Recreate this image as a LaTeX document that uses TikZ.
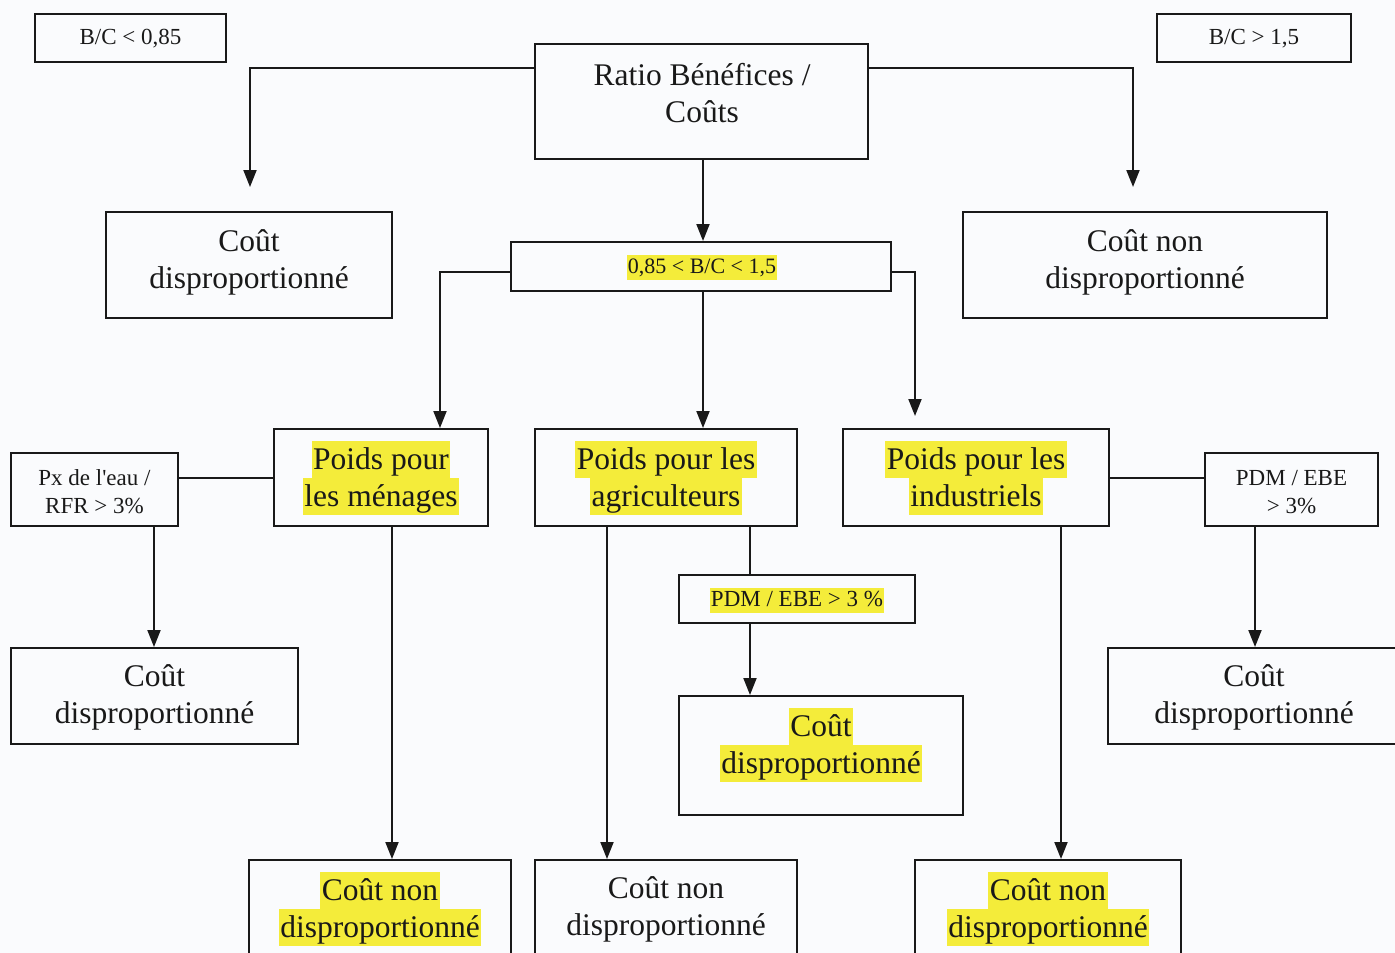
\documentclass[tikz,border=0pt]{standalone}
\usepackage{fontspec}
\setmainfont{Liberation Serif}
\newfontfamily\tnr{Liberation Serif}
\usetikzlibrary{arrows.meta}
\definecolor{hly}{RGB}{244,236,58}
\definecolor{bgc}{RGB}{250,251,253}
\definecolor{ink}{RGB}{25,25,25}
\newcommand{\hlb}[1]{{\setlength{\fboxsep}{0pt}\colorbox{hly}{\rule[-9pt]{0pt}{37pt}\hspace{1.5pt}#1\hspace{1.5pt}}}}
\newcommand{\hls}[1]{{\setlength{\fboxsep}{0pt}\colorbox{hly}{\rule[-6pt]{0pt}{25pt}\hspace{1pt}#1\hspace{1pt}}}}
\tikzset{
  box/.style={draw=ink, line width=2pt, inner sep=0pt},
  bigt/.style={font=\tnr\fontsize{31.5}{37}\selectfont, align=center, inner sep=0pt, text=ink},
  smallt/.style={font=\tnr\fontsize{23}{28}\selectfont, align=center, inner sep=0pt, text=ink},
  midt/.style={font=\tnr\fontsize{22}{26}\selectfont, align=center, inner sep=0pt, text=ink},
  conn/.style={draw=ink, line width=2pt},
  arr/.style={conn, -{Triangle[length=17pt,width=13pt]}}
}
\begin{document}
\begin{tikzpicture}[x=1pt,y=-1pt]
\useasboundingbox (0,0) rectangle (1395,953);
\clip (0,0) rectangle (1395,953);
\fill[bgc] (0,0) rectangle (1395,953);

% boxes
\node[box, minimum width=191pt, minimum height=48pt] (b1) at (130.5,38) {};
\node[box, minimum width=194pt, minimum height=48pt] (b2) at (1254,38) {};
\node[box, minimum width=333pt, minimum height=115pt] (ratio) at (701.5,101.5) {};
\node[box, minimum width=286pt, minimum height=106pt] (cdl) at (249,265) {};
\node[box, minimum width=364pt, minimum height=106pt] (cnr) at (1145,265) {};
\node[box, minimum width=380pt, minimum height=49pt] (mid) at (701,266.5) {};
\node[box, minimum width=214pt, minimum height=97pt] (men) at (381,477.5) {};
\node[box, minimum width=262pt, minimum height=97pt] (agr) at (666,477.5) {};
\node[box, minimum width=266pt, minimum height=97pt] (ind) at (976,477.5) {};
\node[box, minimum width=167pt, minimum height=73pt] (px) at (94.5,489.5) {};
\node[box, minimum width=173pt, minimum height=73pt] (pdmb) at (1291.5,489.5) {};
\node[box, minimum width=236pt, minimum height=48pt] (pdma) at (797,599) {};
\node[box, minimum width=287pt, minimum height=96pt] (cda) at (154.5,696) {};
\node[box, minimum width=284pt, minimum height=119pt] (cdb) at (821,755.5) {};
\node[box, minimum width=292pt, minimum height=96pt] (cdc) at (1254,696) {};
\node[box, minimum width=262pt, minimum height=130pt] (cna) at (380,925) {};
\node[box, minimum width=262pt, minimum height=130pt] (cnb) at (666,925) {};
\node[box, minimum width=266pt, minimum height=130pt] (cnc) at (1048,925) {};

% texts
\node[smallt] (t-b1) at (130.5,39) {B/C < 0,85};
\node[smallt] (t-b2) at (1254,39) {B/C > 1,5};
\node[bigt] (t-ratio) at (702,93) {Ratio Bénéfices /\\Coûts};
\node[bigt] (t-cdl) at (249,262) {Coût\\disproportionné};
\node[bigt] (t-cnr) at (1145,262) {Coût non\\disproportionné};
\node[midt] (t-mid) at (702,267) {\hls{0,85 < B/C < 1,5}};
\node[bigt] (t-men) at (381,478) {\hlb{Poids pour}\\\hlb{les ménages}};
\node[bigt] (t-agr) at (666,478) {\hlb{Poids pour les}\\\hlb{agriculteurs}};
\node[bigt] (t-ind) at (976,478) {\hlb{Poids pour les}\\\hlb{industriels}};
\node[smallt] (t-px) at (94.5,492) {Px de l\textquotesingle eau /\\RFR > 3\%};
\node[smallt] (t-pdmb) at (1291.5,492) {PDM / EBE\\> 3\%};
\node[smallt] (t-pdma) at (797,600) {\hls{PDM / EBE > 3 \%}};
\node[bigt] (t-cda) at (154.5,697) {Coût\\disproportionné};
\node[bigt] (t-cdb) at (821,745) {\hlb{Coût}\\\hlb{disproportionné}};
\node[bigt] (t-cdc) at (1254,697) {Coût\\disproportionné};
\node[bigt] (t-cna) at (380,909) {\hlb{Coût non}\\\hlb{disproportionné}};
\node[bigt] (t-cnb) at (666,909) {Coût non\\disproportionné};
\node[bigt] (t-cnc) at (1048,909) {\hlb{Coût non}\\\hlb{disproportionné}};

% free ends
\coordinate (aL) at (250,187);
\coordinate (aR) at (1133,187);
\coordinate (aI) at (915,416);

% helper coordinates
\coordinate (rL) at ([yshift=33.5pt]ratio.west);
\coordinate (rR) at ([yshift=33.5pt]ratio.east);
\coordinate (mL) at ([yshift=-5.5pt]mid.west);
\coordinate (mR) at ([yshift=-5.5pt]mid.east);
\coordinate (mB) at ([xshift=2pt]mid.south);
\coordinate (rB) at ([xshift=1.5pt]ratio.south);
\coordinate (menT) at ([xshift=59pt]men.north);
\coordinate (pxB) at ([xshift=59.5pt]px.south);
\coordinate (menB) at ([xshift=11pt]men.south);
\coordinate (agrB1) at ([xshift=-59pt]agr.south);
\coordinate (agrB2) at ([xshift=84pt]agr.south);
\coordinate (pdmbB) at ([xshift=-36.5pt]pdmb.south);
\coordinate (indB) at ([xshift=85pt]ind.south);

% connectors
\draw[arr] (rL) -| (aL);
\draw[arr] (rR) -| (aR);
\draw[arr] (rB) -- (rB |- mid.north);
\draw[arr] (mL) -| (menT);
\draw[arr] (mB) -- (mB |- agr.north);
\draw[arr] (mR) -| (aI);
\draw[conn] (men.west) -- (men.west -| px.east);
\draw[arr] (pxB) -- (pxB |- cda.north);
\draw[arr] (menB) -- (menB |- cna.north);
\draw[arr] (agrB1) -- (agrB1 |- cnb.north);
\draw[conn] (agrB2) -- (agrB2 |- pdma.north);
\draw[arr] (agrB2 |- pdma.south) -- (agrB2 |- cdb.north);
\draw[conn] (ind.east) -- (ind.east -| pdmb.west);
\draw[arr] (pdmbB) -- (pdmbB |- cdc.north);
\draw[arr] (indB) -- (indB |- cnc.north);
\end{tikzpicture}
\end{document}
